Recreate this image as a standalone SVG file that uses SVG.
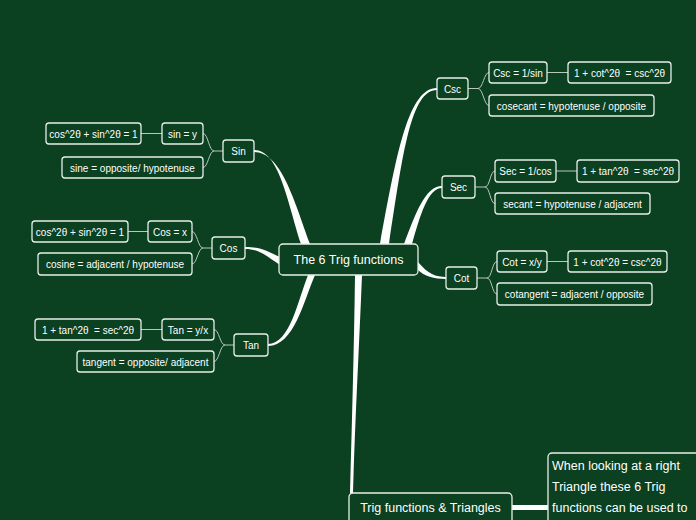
<svg xmlns="http://www.w3.org/2000/svg" width="696" height="520" viewBox="0 0 696 520">
<style>
.n rect{fill:#0b4021;stroke:#e6eee8;stroke-width:1.3}
.n text{fill:#ffffff;font-family:"Liberation Sans",Arial,sans-serif;font-size:10px;text-anchor:middle}
.thin{fill:none;stroke:#b9c6bd;stroke-width:1}
.thick{fill:#ffffff}
.big text{font-size:12.5px}
</style>
<rect width="696" height="520" fill="#0b4021"/>
<g id="connectors">
<path class="thick" d="M254,150 C279,150 287,200 301,244 L310,244 C294,200 281,152 254,152 Z"/>
<path class="thick" d="M245,247 C262,247 268,252 280,257 L280,265 C266,256 260,249 245,249 Z"/>
<path class="thick" d="M268,344 C290,344 298,300 308,275 L315,275 C304,300 294,346 268,346 Z"/>
<path class="thick" d="M437,88 C409,88 397,150 380,244 L389,244 C403,152 411,90 437,90 Z"/>
<path class="thick" d="M442,186 C425,186 415,215 404,244 L412,244 C420,216 428,188 442,188 Z"/>
<path class="thick" d="M418,262 C428,274 436,277 446,277 L446,279 C434,279 424,276 418,270 Z"/>
<path class="thick" d="M355,275 L362,275 C359,350 355,420 353,493 L350,493 C352,420 354,350 355,275 Z"/>
<rect class="thick" x="512" y="505" width="36" height="5"/>
<path class="thin" d="M223,151 H214 C209,151 208,133.5 203,133.5 M214,151 C209,151 208,167.5 203,167.5 M141,133.5 H162"/>
<path class="thin" d="M212,248 H203 C198,248 197,231.5 192,231.5 M203,248 C198,248 197,264 192,264 M128,231.5 H148"/>
<path class="thin" d="M234,345 H225 C220,345 219,329.5 214,329.5 M225,345 C220,345 219,361.5 214,361.5 M141,329.5 H162"/>
<path class="thin" d="M468,88.5 H478 C483,88.5 484,72.5 489,72.5 M478,88.5 C483,88.5 484,105.5 489,105.5 M547,72.5 H568"/>
<path class="thin" d="M475,187 H485 C490,187 490,171 495,171 M485,187 C490,187 490,203.5 495,203.5 M556,171 H577"/>
<path class="thin" d="M477,278 H487 C492,278 492,261.5 497,261.5 M487,278 C492,278 492,294 497,294 M547,261.5 H568"/>
</g>
<g id="central" class="n big"><rect x="279" y="244" width="139" height="31" rx="4"/><text x="348.5" y="264">The 6 Trig functions</text></g>
<g id="sin" class="n"><rect x="223" y="140" width="31" height="22" rx="3"/><text x="238.5" y="155">Sin</text></g>
<g id="sin-def" class="n"><rect x="162" y="123" width="41" height="21" rx="3"/><text x="182.5" y="137.5">sin = y</text></g>
<g id="sin-id" class="n"><rect x="46" y="123" width="95" height="21" rx="3"/><text x="93.5" y="137.5">cos^2θ + sin^2θ = 1</text></g>
<g id="sin-ratio" class="n"><rect x="62" y="157" width="141" height="21" rx="3"/><text x="132.5" y="171.5">sine = opposite/ hypotenuse</text></g>
<g id="cos" class="n"><rect x="212" y="237" width="33" height="22" rx="3"/><text x="228.5" y="252">Cos</text></g>
<g id="cos-def" class="n"><rect x="148" y="221" width="44" height="21" rx="3"/><text x="170" y="235.5">Cos = x</text></g>
<g id="cos-id" class="n"><rect x="32" y="221" width="96" height="21" rx="3"/><text x="80" y="235.5">cos^2θ + sin^2θ = 1</text></g>
<g id="cos-ratio" class="n"><rect x="38" y="253" width="154" height="22" rx="3"/><text x="115" y="268">cosine = adjacent / hypotenuse</text></g>
<g id="tan" class="n"><rect x="234" y="334" width="34" height="22" rx="3"/><text x="251" y="349">Tan</text></g>
<g id="tan-def" class="n"><rect x="162" y="319" width="52" height="21" rx="3"/><text x="188" y="333.5">Tan = y/x</text></g>
<g id="tan-id" class="n"><rect x="35" y="319" width="106" height="21" rx="3"/><text x="88" y="333.5" xml:space="preserve">1 + tan^2θ  = sec^2θ</text></g>
<g id="tan-ratio" class="n"><rect x="77" y="351" width="137" height="21" rx="3"/><text x="145.5" y="365.5">tangent = opposite/ adjacent</text></g>
<g id="csc" class="n"><rect x="437" y="78" width="31" height="21" rx="3"/><text x="452.5" y="92.5">Csc</text></g>
<g id="csc-def" class="n"><rect x="489" y="62" width="58" height="21" rx="3"/><text x="518" y="76.5">Csc = 1/sin</text></g>
<g id="csc-id" class="n"><rect x="568" y="62" width="103" height="21" rx="3"/><text x="619.5" y="76.5" xml:space="preserve">1 + cot^2θ  = csc^2θ</text></g>
<g id="csc-ratio" class="n"><rect x="489" y="95" width="165" height="21" rx="3"/><text x="571.5" y="109.5">cosecant = hypotenuse / opposite</text></g>
<g id="sec" class="n"><rect x="442" y="176" width="33" height="22" rx="3"/><text x="458.5" y="191">Sec</text></g>
<g id="sec-def" class="n"><rect x="495" y="160" width="61" height="22" rx="3"/><text x="525.5" y="175">Sec = 1/cos</text></g>
<g id="sec-id" class="n"><rect x="577" y="160" width="102" height="22" rx="3"/><text x="628" y="175" xml:space="preserve">1 + tan^2θ  = sec^2θ</text></g>
<g id="sec-ratio" class="n"><rect x="495" y="193" width="155" height="21" rx="3"/><text x="572.5" y="207.5">secant = hypotenuse / adjacent</text></g>
<g id="cot" class="n"><rect x="446" y="267" width="31" height="22" rx="3"/><text x="461.5" y="282">Cot</text></g>
<g id="cot-def" class="n"><rect x="497" y="251" width="50" height="21" rx="3"/><text x="522" y="265.5">Cot = x/y</text></g>
<g id="cot-id" class="n"><rect x="568" y="251" width="99" height="21" rx="3"/><text x="617.5" y="265.5">1 + cot^2θ = csc^2θ</text></g>
<g id="cot-ratio" class="n"><rect x="497" y="283" width="155" height="22" rx="3"/><text x="574.5" y="298">cotangent = adjacent / opposite</text></g>
<g id="triangles" class="n big"><rect x="349" y="493" width="163" height="40" rx="4"/><text x="430.5" y="512">Trig functions &amp; Triangles</text></g>
<g id="note" class="n big"><rect x="548" y="453" width="170" height="80" rx="4"/><text x="552" y="470" text-anchor="start" style="text-anchor:start">When looking at a right</text><text x="552" y="491" style="text-anchor:start">Triangle these 6 Trig</text><text x="552" y="512" style="text-anchor:start">functions can be used to</text></g>
</svg>
